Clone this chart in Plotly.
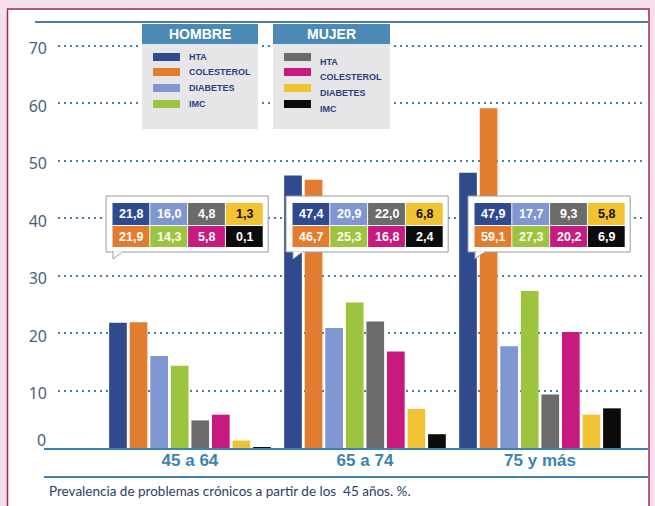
import plotly.graph_objects as go

categories = ["45 a 64", "65 a 74", "75 y más"]
series_names = ["HTA", "COLESTEROL", "DIABETES", "IMC"]
hombre_hta = [21.8, 47.4, 47.9]
hombre_col = [21.9, 46.7, 59.1]
hombre_diab = [16.0, 20.9, 17.7]
hombre_imc = [14.3, 25.3, 27.3]
mujer_hta = [4.8, 22.0, 9.3]
mujer_col = [5.8, 16.8, 20.2]
mujer_diab = [1.3, 6.8, 5.8]
mujer_imc = [0.1, 2.4, 6.9]
y_ticks = [0, 10, 20, 30, 40, 50, 60, 70]
y_ticktext = ["", "10", "20", "30", "40", "50", "60", "70"]
caption = "Prevalencia de problemas crónicos a partir de los  45 años. %."

C_HTA_H = "#2f4b8e"
C_COL_H = "#e27d30"
C_DIAB_H = "#8096d0"
C_IMC_H = "#9dc43e"
C_HTA_M = "#6b6b6b"
C_COL_M = "#c8197f"
C_DIAB_M = "#f1c232"
C_IMC_M = "#0b0b0b"
BLUE = "#3f82ad"

bars = [
    (hombre_hta, C_HTA_H, "Hombre HTA"),
    (hombre_col, C_COL_H, "Hombre Colesterol"),
    (hombre_diab, C_DIAB_H, "Hombre Diabetes"),
    (hombre_imc, C_IMC_H, "Hombre IMC"),
    (mujer_hta, C_HTA_M, "Mujer HTA"),
    (mujer_col, C_COL_M, "Mujer Colesterol"),
    (mujer_diab, C_DIAB_M, "Mujer Diabetes"),
    (mujer_imc, C_IMC_M, "Mujer IMC"),
]

fig = go.Figure()
for vals, col, name in bars:
    fig.add_trace(go.Bar(x=categories, y=vals, name=name, marker_color=col,
                         marker_line_width=0, showlegend=False))

W, H = 655, 506
L, R, T, B = 58, 10, 17, 58
PW, PH = W - L - R, H - T - B


def px(x):
    return (x - L) / PW


def py(y):
    return (H - B - y) / PH


shapes = []
annotations = []

# white panel with border
shapes.append(dict(type="rect", xref="paper", yref="paper", x0=px(7.5), x1=px(649), y0=py(9), y1=py(520),
                   fillcolor="white", line=dict(color="#a3245f", width=1.5), layer="below"))
# top, baseline, bottom lines
shapes.append(dict(type="line", xref="paper", yref="paper", x0=px(35), x1=px(648), y0=py(22), y1=py(22),
                   line=dict(color="#4d7c9c", width=2.2), layer="above"))
for yy in (449, 477):
    shapes.append(dict(type="line", xref="paper", yref="paper", x0=px(44), x1=px(648), y0=py(yy), y1=py(yy),
                       line=dict(color=BLUE, width=2.2), layer="above"))

annotations.append(dict(xref="paper", yref="paper", x=px(48), y=py(440), text="0", showarrow=False,
                        font=dict(family="Noto Sans, Liberation Sans", size=16, color="#4a5f7a"),
                        xanchor="right", yanchor="middle"))


# legend boxes
def legend_box(x0, x1, title, colors, label_offset):
    shapes.append(dict(type="rect", xref="paper", yref="paper", x0=px(x0), x1=px(x1), y0=py(24), y1=py(129),
                       fillcolor="#e6e6e8", line=dict(width=0), layer="above"))
    shapes.append(dict(type="rect", xref="paper", yref="paper", x0=px(x0), x1=px(x1), y0=py(24), y1=py(44),
                       fillcolor="#4a8ab5", line=dict(width=0), layer="above"))
    annotations.append(dict(xref="paper", yref="paper", x=px((x0 + x1) / 2), y=py(34), text="<b>%s</b>" % title,
                            showarrow=False, font=dict(family="Liberation Sans, Arial", size=14, color="white"),
                            xanchor="center", yanchor="middle"))
    rows = [57, 72, 88, 104]
    for i, (c, lab) in enumerate(zip(colors, series_names)):
        shapes.append(dict(type="rect", xref="paper", yref="paper", x0=px(x0 + 11), x1=px(x0 + 38),
                           y0=py(rows[i] - 4), y1=py(rows[i] + 4), fillcolor=c, line=dict(width=0), layer="above"))
        annotations.append(dict(xref="paper", yref="paper", x=px(x0 + 45), y=py(rows[i] + label_offset),
                                text="<b>%s</b>" % lab, showarrow=False,
                                font=dict(family="Liberation Sans Narrow, Liberation Sans, Arial", size=9, color="#2b3f7e"),
                                xanchor="left", yanchor="middle"))


legend_box(142, 258, "HOMBRE", [C_HTA_H, C_COL_H, C_DIAB_H, C_IMC_H], 0)
legend_box(273, 390, "MUJER", [C_HTA_M, C_COL_M, C_DIAB_M, C_IMC_M], 5)

# value callout boxes
box_x = [112, 292, 474]
cw = 37.8
top_cols = [C_HTA_H, C_DIAB_H, C_HTA_M, C_DIAB_M]
bot_cols = [C_COL_H, C_IMC_H, C_COL_M, C_IMC_M]
for g in range(3):
    x0 = box_x[g]
    top_vals = [hombre_hta[g], hombre_diab[g], mujer_hta[g], mujer_diab[g]]
    bot_vals = [hombre_col[g], hombre_imc[g], mujer_col[g], mujer_imc[g]]
    shapes.append(dict(type="rect", xref="paper", yref="paper", x0=px(x0 - 6), x1=px(x0 + 4 * cw + 5),
                       y0=py(196), y1=py(252), fillcolor="white", line=dict(color="#9a9a9a", width=1), layer="above"))
    # tail
    shapes.append(dict(type="path", xref="paper", yref="paper",
                       path="M %f,%f L %f,%f L %f,%f Z" % (px(x0 + 1), py(251.5), px(x0 + 1), py(259), px(x0 + 11), py(251.5)),
                       fillcolor="white", line=dict(color="#9a9a9a", width=1), layer="above"))
    shapes.append(dict(type="line", xref="paper", yref="paper", x0=px(x0 + 1.5), x1=px(x0 + 10.5), y0=py(252), y1=py(252),
                       line=dict(color="white", width=1.5), layer="above"))
    for row, (vals, cols, ya, yb) in enumerate([(top_vals, top_cols, 203, 225), (bot_vals, bot_cols, 226, 247)]):
        for k in range(4):
            cx0 = x0 + k * cw
            shapes.append(dict(type="rect", xref="paper", yref="paper", x0=px(cx0 + 0.5), x1=px(cx0 + cw - 0.5),
                               y0=py(ya), y1=py(yb), fillcolor=cols[k], line=dict(width=0), layer="above"))
            tcol = "#111111" if cols[k] == C_DIAB_M else "white"
            txt = ("%.1f" % vals[k]).replace(".", ",")
            annotations.append(dict(xref="paper", yref="paper", x=px(cx0 + cw / 2), y=py((ya + yb) / 2),
                                    text="<b>%s</b>" % txt, showarrow=False,
                                    font=dict(family="Liberation Sans, Arial", size=12.5, color=tcol),
                                    xanchor="center", yanchor="middle"))

annotations.append(dict(xref="paper", yref="paper", x=px(47), y=py(491), text=caption, showarrow=False,
                        font=dict(family="Lato, Noto Sans", size=13.5, color="#2c3d66"),
                        xanchor="left", yanchor="middle"))

fig.update_layout(
    width=W, height=H,
    margin=dict(l=L, r=R, t=T, b=B),
    paper_bgcolor="#f2e1ea",
    plot_bgcolor="white",
    barmode="group",
    bargap=0.06,
    bargroupgap=0.14,
    shapes=shapes,
    annotations=annotations,
    xaxis=dict(type="category", range=[-0.754, 2.6], showgrid=False, showline=False, zeroline=False,
               ticks="", tickfont=dict(family="Liberation Sans, Arial", size=17, color=BLUE),
               tickprefix="<b>", ticksuffix="</b>", fixedrange=True),
    yaxis=dict(range=[0, 75], tickvals=y_ticks, ticktext=y_ticktext, showgrid=True, gridcolor=BLUE,
               griddash="2px,4px", gridwidth=2, zeroline=False, showline=False, ticks="",
               tickfont=dict(family="Noto Sans, Liberation Sans", size=16, color="#4a5f7a"),
               ticklabelstandoff=10, ticklabelshift=3),
)

fig.write_html("out.html")
